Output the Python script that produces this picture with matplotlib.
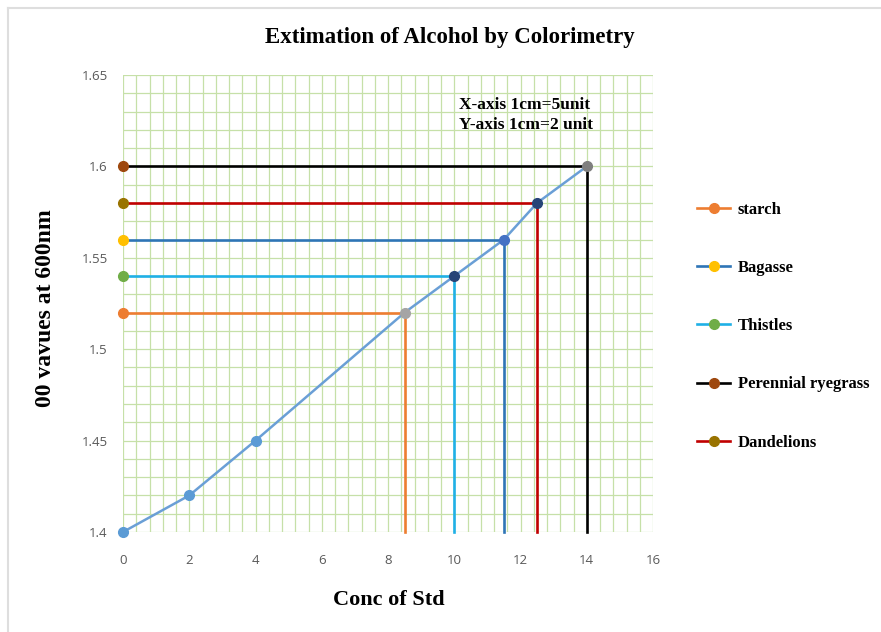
import matplotlib
matplotlib.use("Agg")
import matplotlib.pyplot as plt
from matplotlib.lines import Line2D
from matplotlib.ticker import MultipleLocator, FuncFormatter
import numpy as np

# ---- data ----
std_conc = [0, 2, 4, 8.5, 10, 11.5, 12.5, 14]
std_od = [1.40, 1.42, 1.45, 1.52, 1.54, 1.56, 1.58, 1.60]
std_marker_colors = ['#5b9bd5', '#5b9bd5', '#5b9bd5', '#a5a5a5', '#264478', '#4472c4', '#264478', '#7f7f7f']

samples = ['starch', 'Bagasse', 'Thistles', 'Perennial ryegrass', 'Dandelions']
sample_conc = [8.5, 11.5, 10, 14, 12.5]
sample_od = [1.52, 1.56, 1.54, 1.60, 1.58]
sample_line_colors = ['#ed7d31', '#2e75b6', '#1fb0e6', '#000000', '#c00000']
sample_marker_colors = ['#ed7d31', '#ffc000', '#70ad47', '#9e480e', '#997300']

x_ticks = [0, 2, 4, 6, 8, 10, 12, 14, 16]
y_ticks = [1.4, 1.45, 1.5, 1.55, 1.6, 1.65]

serif = ['Liberation Serif', 'DejaVu Serif']
sans = ['Open Sans', 'DejaVu Sans']

fig = plt.figure(figsize=(8.81, 6.32), dpi=100)
ax = fig.add_axes([123/881, 1-532/632, (653-123)/881, (532-75)/632])

ax.set_xlim(0, 16)
ax.set_ylim(1.4, 1.65)

# grid
ax.xaxis.set_minor_locator(MultipleLocator(0.4))
ax.yaxis.set_minor_locator(MultipleLocator(0.01))
ax.set_xticks(x_ticks)
ax.set_yticks(y_ticks)
ax.grid(which='both', color='#c6e0a8', linewidth=0.9)
ax.set_axisbelow(True)
for s in ax.spines.values():
    s.set_visible(False)
ax.tick_params(which='both', length=0)
ax.tick_params(axis='x', pad=16, labelsize=9.5, labelcolor='#595959')
ax.tick_params(axis='y', pad=11, labelsize=9.5, labelcolor='#595959')
ax.yaxis.set_major_formatter(FuncFormatter(lambda v, p: '%g' % round(v, 3)))
for lab in ax.get_xticklabels() + ax.get_yticklabels():
    lab.set_family(sans)

# sample reference lines
handles = []
for name, cx, oy, lc, mc in zip(samples, sample_conc, sample_od, sample_line_colors, sample_marker_colors):
    ax.plot([0, cx, cx], [oy, oy, 1.4], color=lc, linewidth=1.9, zorder=3, clip_on=False)
    ax.plot([0], [oy], marker='o', markersize=7, color=mc, zorder=5, clip_on=False, linestyle='none')
    handles.append(Line2D([0], [0], color=lc, linewidth=1.9, marker='o', markersize=7,
                          markerfacecolor=mc, markeredgecolor=mc, label=name))

# standard curve
ax.plot(std_conc, std_od, color='#6a9fd6', linewidth=1.8, zorder=4, clip_on=False)
for cx, oy, mc in zip(std_conc, std_od, std_marker_colors):
    ax.plot([cx], [oy], marker='o', markersize=7, color=mc, zorder=6, clip_on=False, linestyle='none')

# annotation
ax.text((459-123)/530, 1-(115-75)/457, 'X-axis 1cm=5unit\nY-axis 1cm=2 unit', transform=ax.transAxes,
        family=serif, fontweight='bold', fontsize=12.5, va='center', ha='left', linespacing=1.3)

# titles
fig.text(450/881, 1-38/632, 'Extimation of Alcohol by Colorimetry', family=serif,
         fontweight='bold', fontsize=16.5, ha='center', va='center')
fig.text(389/881, 1-600/632, 'Conc of Std', family=serif, fontweight='bold', fontsize=16,
         ha='center', va='center')
fig.text(46/881, 1-308/632, '00 vavues at 600nm', family=serif, fontweight='bold', fontsize=17,
         ha='center', va='center', rotation=90)

# legend
leg = fig.legend(handles=handles, loc='upper left', bbox_to_anchor=(697/881, 1-202/632),
                 frameon=False, prop={'family': serif, 'weight': 'bold', 'size': 12},
                 labelspacing=2.53, handlelength=2.0, handletextpad=0.45, borderpad=0, borderaxespad=0)

# outer border (top and left)
fig.add_artist(Line2D([8/881, 1], [1-8/632, 1-8/632], color='#dedede', linewidth=1.5, transform=fig.transFigure))
fig.add_artist(Line2D([8/881, 8/881], [1-8/632, 0], color='#dedede', linewidth=1.5, transform=fig.transFigure))

fig.savefig('out.png', dpi=100)
